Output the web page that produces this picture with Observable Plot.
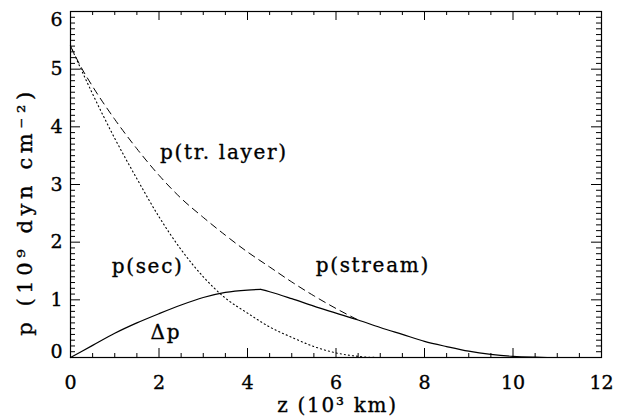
<!DOCTYPE html>
<html><head><meta charset="utf-8">
<script src="https://cdn.jsdelivr.net/npm/d3@7"></script>
<script src="https://cdn.jsdelivr.net/npm/@observablehq/plot@0.6"></script>
<style>body{margin:0;background:#fff} svg text{font-family:"DejaVu Serif","Liberation Serif",serif !important;}</style>
</head><body><div id="chart"></div>
<script>
// p(tr. layer) — dashed
const trZ = [0, 0.25, 0.5, 1, 1.5, 2, 2.5, 3, 3.5, 4, 4.5, 5, 5.5, 6, 6.5];
const trP = [5.40, 5.02, 4.70, 4.13, 3.62, 3.16, 2.76, 2.43, 2.12, 1.83, 1.57, 1.31, 1.07, 0.85, 0.65];
// p(sec) — dotted
const secZ = [0, 0.25, 0.5, 1, 1.5, 2, 2.5, 3, 3.5, 4, 4.5, 5, 5.5, 6, 6.5, 7, 11];
const secP = [5.40, 4.98, 4.57, 3.80, 3.10, 2.44, 1.87, 1.40, 1.03, 0.77, 0.53, 0.35, 0.19, 0.08, 0.02, 0, 0];
// Δp (rising part) — solid
const dpZ = [0, 0.5, 1, 1.5, 2, 2.5, 3, 3.5, 4, 4.3];
const dpP = [0, 0.21, 0.42, 0.60, 0.76, 0.91, 1.04, 1.13, 1.17, 1.18];
// p(stream) (falling part) — solid
const stZ = [4.3, 4.5, 5, 5.5, 6, 6.5, 7, 7.5, 8, 8.5, 9, 9.5, 10, 10.5, 10.8];
const stP = [1.18, 1.14, 1.02, 0.89, 0.77, 0.65, 0.52, 0.40, 0.28, 0.19, 0.11, 0.055, 0.02, 0.005, 0];

// tick labels
const xTickLabels = [0, 2, 4, 6, 8, 10, 12];
const yTickLabels = [0, 1, 2, 3, 4, 5, 6];
const xTitle = "z (10³ km)";
const yTitle = "p (10⁹ dyn cm⁻²)";

// curve annotations
const labelText = ["p(tr. layer)", "p(sec)", "p(stream)", "Δp"];
const labelZ = [2.02, 0.93, 5.54, 1.81];
const labelP = [3.56, 1.58, 1.59, 0.43];

const W = 625, H = 417;
const mL = 70, mR = 24, mT = 11, mB = 60;
const fw = W - mL - mR, fh = H - mT - mB;

const xMinor = d3.range(0, 12.001, 0.5).filter(d => !xTickLabels.includes(d));
const yMinor = d3.range(0, 60.5, 1).map(d => d / 10).filter(d => !yTickLabels.includes(d));

const toRows = (zs, ps) => zs.map((z, i) => ({z, p: ps[i]}));
const tr = toRows(trZ, trP), sec = toRows(secZ, secP), dp = toRows(dpZ, dpP), st = toRows(stZ, stP);
const labels = labelText.map((t, i) => ({t, z: labelZ[i], p: labelP[i]}));

const font = '"DejaVu Serif", "Liberation Serif", serif';
const txt = {fill: "#000", fontFamily: font, stroke: "#000", strokeWidth: 0.35};
const chart = Plot.plot({
  width: W, height: H,
  marginLeft: mL, marginRight: mR, marginTop: mT, marginBottom: mB,
  x: {domain: [0, 12], axis: null},
  y: {domain: [0, 6], axis: null},
  style: {fontFamily: font, background: "#fff", color: "#000"},
  marks: [
    Plot.line(sec, {x: "z", y: "p", stroke: "#000", strokeWidth: 1.1, strokeDasharray: "1.1,3", curve: "monotone-x"}),
    Plot.line(tr, {x: "z", y: "p", stroke: "#000", strokeWidth: 1, strokeDasharray: "7,5", curve: "monotone-x"}),
    Plot.line(dp, {x: "z", y: "p", stroke: "#000", strokeWidth: 1.2, curve: "monotone-x"}),
    Plot.line(st, {x: "z", y: "p", stroke: "#000", strokeWidth: 1.2, curve: "monotone-x"}),
    // inward ticks
    Plot.tickX(xTickLabels, {x: d => d, insetTop: fh - 9, stroke: "#000"}),
    Plot.tickX(xTickLabels, {x: d => d, insetBottom: fh - 9, stroke: "#000"}),
    Plot.tickX(xMinor, {x: d => d, insetTop: fh - 4, stroke: "#000"}),
    Plot.tickX(xMinor, {x: d => d, insetBottom: fh - 4, stroke: "#000"}),
    Plot.tickY(yTickLabels, {y: d => d, insetRight: fw - 10, stroke: "#000"}),
    Plot.tickY(yTickLabels, {y: d => d, insetLeft: fw - 10, stroke: "#000"}),
    Plot.tickY(yMinor, {y: d => d, insetRight: fw - 5, stroke: "#000"}),
    Plot.tickY(yMinor, {y: d => d, insetLeft: fw - 5, stroke: "#000"}),
    Plot.frame({stroke: "#000", strokeWidth: 1.2}),
    // tick labels
    Plot.text(xTickLabels, {x: d => d, frameAnchor: "bottom", dy: 25, lineAnchor: "middle", textAnchor: "middle", text: d => String(d), fontSize: 19, ...txt}),
    Plot.text(yTickLabels.filter(d => d > 0 && d < 6), {y: d => d, frameAnchor: "left", dx: -8, textAnchor: "end", lineAnchor: "middle", text: d => String(d), fontSize: 19, ...txt}),
    Plot.text(yTickLabels.filter(d => d === 6), {y: d => d, frameAnchor: "left", dx: -8, dy: 1, textAnchor: "end", lineAnchor: "top", text: d => String(d), fontSize: 19, ...txt}),
    Plot.text(yTickLabels.filter(d => d === 0), {y: d => d, frameAnchor: "left", dx: -8, textAnchor: "end", lineAnchor: "bottom", text: d => String(d), fontSize: 19, ...txt}),
    // axis titles
    Plot.text([xTitle], {frameAnchor: "bottom", dx: 1.5, dy: 48, lineAnchor: "middle", textAnchor: "middle", text: d => d, fontSize: 20, ...txt}),
    Plot.text([yTitle], {frameAnchor: "left", dx: -45, dy: 27, rotate: -90, lineAnchor: "middle", textAnchor: "middle", text: d => d, fontSize: 21, ...txt}),
    // curve labels
    Plot.text(labels, {x: "z", y: "p", text: "t", textAnchor: "start", lineAnchor: "middle", fontSize: 20, ...txt})
  ]
});
// widen letter spacing of word labels (IDL-like vector font)
d3.select(chart).selectAll("text")
  .filter(function() { return /[a-zΔ]/.test(this.textContent); })
  .attr("letter-spacing", function() { return this.textContent === yTitle ? "4.6px" : "1.7px"; });
document.getElementById("chart").appendChild(chart);
</script>
</body></html>
